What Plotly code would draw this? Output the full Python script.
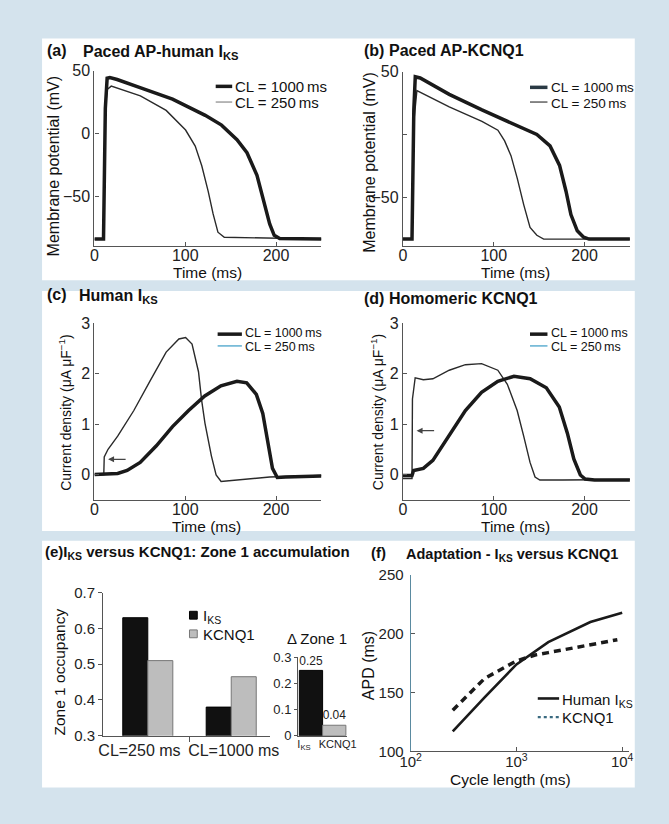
import plotly.graph_objects as go

W, H = 669, 824

# (a) paced AP - human IKS  (time ms, membrane potential mV)
t_a_1000 = [0, 10, 12, 14, 17, 25, 51, 86, 122, 140, 157, 168, 179, 188, 193, 198, 204, 250]
v_a_1000 = [-84, -84, 20, 44, 44.5, 43, 36.4, 27.4, 14.5, 6.7, -4.9, -15.3, -33.3, -56.6, -72, -81, -83.5, -84]
t_a_250 = [0, 10, 12, 14, 18.5, 50.6, 79, 100.4, 111, 118.2, 125.3, 130.7, 136, 143, 250]
v_a_250 = [-84, -84, 20, 35, 37.7, 30, 18.4, 2.8, -10, -25.6, -46, -64, -78.5, -82.5, -84]

# (b) paced AP - KCNQ1
t_b_1000 = [0, 10, 12, 13.6, 19, 51, 87, 122.5, 147.5, 162, 172.5, 179.6, 185, 192, 199, 205, 250]
v_b_1000 = [-83, -83, 20, 46, 45, 32, 19.6, 7.9, 0.1, -9, -24.5, -45, -63.5, -76.4, -81.5, -83, -83]
t_b_250 = [0, 10, 12, 15.4, 51, 87, 104.6, 112, 119, 126, 133, 140, 147.5, 155, 250]
v_b_250 = [-83, -83, 10, 35, 22, 10.5, 3.5, -5, -16.7, -35, -55.6, -73.8, -80, -83, -83]

# (c) human IKS current density (uA/uF)
t_c_1000 = [0, 25.6, 36, 50.4, 68.2, 86, 103.7, 121.5, 139.3, 157, 167.7, 178.3, 185.4, 190.8, 196.1, 201.4, 210.7, 250]
i_c_1000 = [0, 0.02, 0.08, 0.24, 0.57, 0.95, 1.27, 1.56, 1.76, 1.85, 1.82, 1.59, 1.21, 0.63, 0.12, -0.06, -0.05, -0.03]
t_c_250 = [0, 10.3, 10.8, 15, 25.6, 43.4, 61, 79, 93, 100.4, 107.5, 114.6, 118, 121.7, 128.8, 134, 139.5, 157, 193, 250]
i_c_250 = [0, 0, 0.35, 0.5, 0.76, 1.27, 1.85, 2.43, 2.69, 2.72, 2.59, 2.04, 1.48, 1.02, 0.37, -0.01, -0.14, -0.11, -0.05, -0.02]

# (d) homomeric KCNQ1 current density
t_d_1000 = [0, 10, 11.8, 22.5, 33, 43.6, 54.5, 68.8, 86.6, 104.5, 122.3, 140.1, 157.9, 172.2, 181.1, 188.2, 195.4, 200.7, 211, 250]
i_d_1000 = [-0.02, -0.02, 0.08, 0.12, 0.28, 0.57, 0.88, 1.27, 1.63, 1.85, 1.95, 1.9, 1.72, 1.34, 0.82, 0.31, -0.01, -0.09, -0.11, -0.11]
t_d_250 = [0, 10, 10.5, 13.5, 22.5, 33, 51, 68.8, 86.6, 104.5, 115, 125.8, 133, 140, 145.5, 150.8, 175.8, 250]
i_d_250 = [-0.08, -0.08, 1.5, 1.92, 1.88, 1.9, 2.07, 2.18, 2.2, 2.07, 1.79, 1.27, 0.76, 0.24, -0.05, -0.11, -0.11, -0.1]

# (e) zone 1 occupancy
zone_cats = ["CL=250 ms", "CL=1000 ms"]
zone_iks = [0.63, 0.38]
zone_kcnq1 = [0.51, 0.465]
delta_cats = ["I<sub>KS</sub>", "KCNQ1"]
delta_vals = [0.25, 0.04]
delta_text = ["0.25", "0.04"]

# (f) adaptation
cl_iks = [250, 500, 1000, 2000, 5000, 10000]
apd_iks = [117, 146, 174, 193, 210, 218]
cl_kcnq1 = [250, 500, 1000, 1500, 2000, 5000, 9000]
apd_kcnq1 = [135, 162, 177, 182, 184, 191, 195]

FONT = "Liberation Sans, Arial, sans-serif"
DARK = "#1a1a1a"


def px(x):
    return x / W


def py(y):
    return 1 - y / H


def xdom(l, r):
    return [l / W, r / W]


def ydom(top, bottom):
    return [1 - bottom / H, 1 - top / H]


def axis(domain, rng, anchor, size=16, **kw):
    d = dict(domain=domain, range=rng, anchor=anchor, showline=True, linecolor="#555",
             linewidth=1.2, ticks="inside", ticklen=4, tickcolor="#555", showgrid=False,
             zeroline=False, tickfont=dict(size=size, color="#222", family=FONT))
    d.update(kw)
    return d


fig = go.Figure()

thick = dict(color=DARK, width=3.5)
thin = dict(color="#2a2a2a", width=1.4)

fig.add_trace(go.Scatter(x=t_a_250, y=v_a_250, mode="lines", line=thin, xaxis="x", yaxis="y"))
fig.add_trace(go.Scatter(x=t_a_1000, y=v_a_1000, mode="lines", line=thick, xaxis="x", yaxis="y"))
fig.add_trace(go.Scatter(x=t_b_250, y=v_b_250, mode="lines", line=thin, xaxis="x2", yaxis="y2"))
fig.add_trace(go.Scatter(x=t_b_1000, y=v_b_1000, mode="lines", line=thick, xaxis="x2", yaxis="y2"))
fig.add_trace(go.Scatter(x=t_c_250, y=i_c_250, mode="lines", line=thin, xaxis="x3", yaxis="y3"))
fig.add_trace(go.Scatter(x=t_c_1000, y=i_c_1000, mode="lines", line=thick, xaxis="x3", yaxis="y3"))
fig.add_trace(go.Scatter(x=t_d_250, y=i_d_250, mode="lines", line=thin, xaxis="x4", yaxis="y4"))
fig.add_trace(go.Scatter(x=t_d_1000, y=i_d_1000, mode="lines", line=thick, xaxis="x4", yaxis="y4"))

zone_pos = list(range(len(zone_cats)))
fig.add_trace(go.Bar(x=zone_pos, y=zone_iks, width=0.3, offset=-0.3,
                     marker=dict(color="#111", line=dict(color="#000", width=1)),
                     xaxis="x5", yaxis="y5"))
fig.add_trace(go.Bar(x=zone_pos, y=zone_kcnq1, width=0.3, offset=0,
                     marker=dict(color="#bdbdbd", line=dict(color="#777", width=1)),
                     xaxis="x5", yaxis="y5"))

delta_pos = list(range(len(delta_cats)))
fig.add_trace(go.Bar(x=delta_pos, y=delta_vals, width=1, offset=-0.5, text=delta_text,
                     textposition="outside", cliponaxis=False,
                     textfont=dict(size=13, color="#222", family=FONT),
                     marker=dict(color=["#111", "#bdbdbd"], line=dict(color=["#000", "#777"], width=1)),
                     xaxis="x6", yaxis="y6"))

fig.add_trace(go.Scatter(x=cl_iks, y=apd_iks, mode="lines", line=dict(color=DARK, width=2.6),
                         xaxis="x7", yaxis="y7"))
fig.add_trace(go.Scatter(x=cl_kcnq1, y=apd_kcnq1, mode="lines",
                         line=dict(color=DARK, width=3.5, dash="7px,5px"),
                         xaxis="x7", yaxis="y7"))

fig.update_layout(
    width=W, height=824, autosize=False, showlegend=False, barmode="overlay",
    margin=dict(l=0, r=0, t=0, b=0),
    paper_bgcolor="#d4e3ed", plot_bgcolor="rgba(0,0,0,0)",
    font=dict(family=FONT, color="#111"),
    xaxis=axis(xdom(86, 320), [0, 250], "y", tickvals=[0, 100, 200], ticklabelstandoff=-5),
    yaxis=axis(ydom(63, 242), [-89.5, 50], "x", tickvals=[-50, 0, 50]),
    xaxis2=axis(xdom(404, 638), [0, 250], "y2", tickvals=[0, 100, 200], ticklabelstandoff=-5),
    yaxis2=axis(ydom(64, 242), [-88.5, 50], "x2", tickvals=[-50, 0, 50],
                ticktext=["\u221250", "", "50"]),
    xaxis3=axis(xdom(86, 320), [0, 250], "y3", tickvals=[0, 100, 200], ticklabelstandoff=-5),
    yaxis3=axis(ydom(321, 501), [-0.5, 3], "x3", tickvals=[0, 1, 2, 3]),
    xaxis4=axis(xdom(404, 638), [0, 250], "y4", tickvals=[0, 100, 200], ticklabelstandoff=-5),
    yaxis4=axis(ydom(321, 501), [-0.5, 3], "x4", tickvals=[0, 1, 2, 3]),
    xaxis5=axis(xdom(95, 267), [-0.535, 1.465], "y5", ticks="", tickangle=0,
                tickvals=[-0.1, 1.03], ticktext=zone_cats,
                minor=dict(tickvals=[0.5], ticks="outside", ticklen=5, tickcolor="#555")),
    yaxis5=axis(ydom(596, 742), [0.3, 0.7], "x5", size=15, ticks="outside",
                tickvals=[0.3, 0.4, 0.5, 0.6, 0.7]),
    xaxis6=axis(xdom(296, 346.4), [-0.55, 1.55], "y6", size=11, ticks="",
                tickangle=0, ticklabelstandoff=-2, tickvals=[-0.3, 1.15], ticktext=delta_cats),
    yaxis6=axis(ydom(662, 742), [0, 0.3], "x6", size=13, ticks="outside", ticklen=3,
                tickvals=[0, 0.1, 0.2, 0.3]),
    xaxis7=axis(xdom(412, 637), [2, 4.064], "y7", size=15, type="log",
                tickvals=[100, 1000, 10000], ticklabelstandoff=-3,
                ticktext=["10<sup>2</sup>", "10<sup>3</sup>", "10<sup>4</sup>"]),
    yaxis7=axis(ydom(578, 758), [100, 250], "x7", size=15, tickvals=[100, 150, 200, 250],
                linecolor="#5a8aa0", ticklabelstandoff=3),
)

shapes = []
# white panels
for top, bottom in [(30, 277), (288, 533), (543, 795)]:
    shapes.append(dict(type="rect", xref="paper", yref="paper", x0=px(32), x1=px(643),
                       y0=py(bottom), y1=py(top), fillcolor="white", line=dict(width=0),
                       layer="below"))


def leg_line(x0, x1, y, color, width, dash="solid"):
    shapes.append(dict(type="line", xref="paper", yref="paper", x0=px(x0), x1=px(x1),
                       y0=py(y), y1=py(y), line=dict(color=color, width=width, dash=dash)))


def leg_box(x, y, color, edge):
    shapes.append(dict(type="rect", xref="paper", yref="paper", x0=px(x - 4), x1=px(x + 4),
                       y0=py(y + 4), y1=py(y - 4), fillcolor=color, line=dict(color=edge, width=1)))


leg_line(211, 228, 79, DARK, 3.5)
leg_line(211, 228, 95, "#999", 1.4)
leg_line(535, 553, 80, "#2a3a44", 3.5)
leg_line(535, 553, 95, "#555", 1.4)
leg_line(213, 238, 332, DARK, 3.5)
leg_line(213, 238, 344, "#6ab4d4", 1.6)
leg_line(535, 553, 332, DARK, 3.5)
leg_line(535, 553, 344, "#6ab4d4", 1.6)
leg_line(543, 565, 704, DARK, 2.6)
leg_line(543, 565, 723, "#3a6a80", 2.4, "dot")
leg_box(188, 619, "#111", "#000")
leg_box(188, 638, "#bdbdbd", "#777")

fig.update_layout(shapes=shapes)

ann = []


def note(text, x, y, size, xanchor="left", angle=0, bold=False):
    if bold:
        text = "<b>" + text + "</b>"
    ann.append(dict(text=text, x=px(x), y=py(y), xref="paper", yref="paper",
                    xanchor=xanchor, yanchor="middle", showarrow=False, textangle=angle,
                    font=dict(size=size, color="#111", family=FONT)))


# panel titles
note("(a)", 35, 42, 16, bold=True)
note("Paced AP-human I<sub>KS</sub>", 72, 44, 16, bold=True)
note("(b)", 362, 42, 16, bold=True)
note("Paced AP-KCNQ1", 388, 42, 16, bold=True)
note("(c)", 35, 292, 16, bold=True)
note("Human I<sub>KS</sub>", 68, 294, 16, bold=True)
note("(d)", 362, 296, 16, bold=True)
note("Homomeric KCNQ1", 388, 296, 16, bold=True)
note("(e)I<sub>KS</sub> versus KCNQ1: Zone 1 accumulation", 33, 555, 15, bold=True)
note("(f)", 369, 555, 15, bold=True)
note("Adaptation - I<sub>KS</sub> versus KCNQ1", 405, 557, 14.5, bold=True)

# axis titles
note("Time (ms)", 203, 269, 15.5, xanchor="center")
note("Time (ms)", 520, 269, 15.5, xanchor="center")
note("Time (ms)", 202, 528, 15.5, xanchor="center")
note("Time (ms)", 520, 528, 15.5, xanchor="center")
note("Membrane potential (mV)", 44, 160, 16, xanchor="center", angle=-90)
note("Membrane potential (mV)", 370, 156, 16, xanchor="center", angle=-90)
note("Current density (\u03bcA \u03bcF<sup>\u22121</sup>)", 55, 412, 14, xanchor="center", angle=-90)
note("Current density (\u03bcA \u03bcF<sup>\u22121</sup>)", 377, 412, 14, xanchor="center", angle=-90)
note("Zone 1 occupancy", 50, 677, 15.5, xanchor="center", angle=-90)
note("APD (ms)", 368, 670, 16, xanchor="center", angle=-90)
note("Cycle length (ms)", 515, 787, 15.5, xanchor="center")
note("\u0394 Zone 1", 315, 643, 15, xanchor="center")

# legend texts
note("CL = 1000\u2009ms", 229, 79, 15)
note("CL = 250\u2009ms", 229, 95, 15)
note("CL = 1000\u2009ms", 555, 80, 13.5)
note("CL = 250\u2009ms", 555, 96, 13.5)
note("CL = 1000\u2009ms", 239, 331, 12.5)
note("CL = 250\u2009ms", 239, 345, 12.5)
note("CL = 1000\u2009ms", 555, 331, 12.5)
note("CL = 250\u2009ms", 555, 345, 12.5)
note("I<sub>KS</sub>", 196, 620, 15)
note("KCNQ1", 196, 639, 15)
note("Human I<sub>KS</sub>", 566, 706, 15)
note("KCNQ1", 566, 723, 15)

# arrows marking the residual current at stimulus
ann.append(dict(x=15, y=0.3, ax=36, ay=0.3, xref="x3", yref="y3", axref="x3", ayref="y3",
                text="", showarrow=True, arrowhead=2, arrowsize=1, arrowwidth=1.2,
                arrowcolor="#444"))
ann.append(dict(x=15, y=0.87, ax=36, ay=0.87, xref="x4", yref="y4", axref="x4", ayref="y4",
                text="", showarrow=True, arrowhead=2, arrowsize=1, arrowwidth=1.2,
                arrowcolor="#444"))

fig.update_layout(annotations=ann)

fig.write_html("out.html", config={"displayModeBar": False},
               post_script="document.body.style.margin='0';")
